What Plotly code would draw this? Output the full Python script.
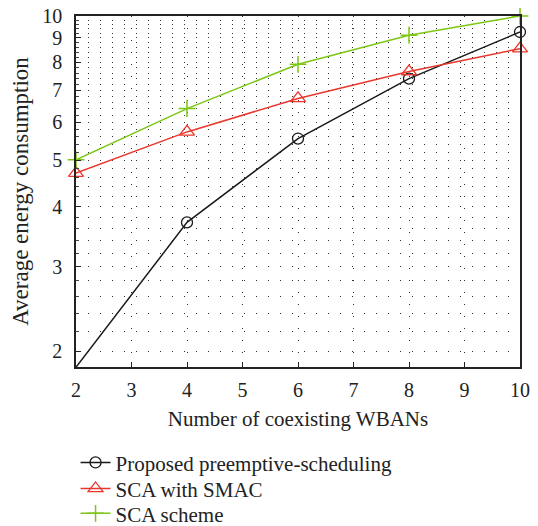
import numpy as np
import plotly.graph_objects as go

x_vals = [2, 4, 6, 8, 10]
proposed = [1.85, 3.71, 5.55, 7.40, 9.26]
sca_smac = [4.70, 5.73, 6.73, 7.66, 8.55]
sca_scheme = [5.01, 6.41, 7.93, 9.12, 10.0]
y_ticks = [2, 3, 4, 5, 6, 7, 8, 9, 10]
x_ticks = [2, 3, 4, 5, 6, 7, 8, 9, 10]

minor_y = [round(2 + 0.2 * i, 1) for i in range(41) if abs((2 + 0.2 * i) - round(2 + 0.2 * i)) > 1e-6]

FONT = "Liberation Serif"
fig = go.Figure()
fig.add_trace(go.Scatter(x=x_vals, y=proposed, name="Proposed preemptive-scheduling",
                         mode="lines+markers", line=dict(color="#1a1a1a", width=1.5),
                         marker=dict(symbol="circle-open", size=11, color="#1a1a1a", line=dict(width=1.3)),
                         cliponaxis=False, legend="legend"))
fig.add_trace(go.Scatter(x=x_vals, y=sca_smac, name="SCA with SMAC",
                         mode="lines+markers", line=dict(color="#e8372c", width=1.5),
                         marker=dict(symbol="triangle-up-open", size=13, color="#e8372c", line=dict(width=1.3)),
                         cliponaxis=False, legend="legend2"))
fig.add_trace(go.Scatter(x=x_vals, y=sca_scheme, name="SCA scheme",
                         mode="lines+markers", line=dict(color="#7cc614", width=1.5),
                         marker=dict(symbol="cross-thin-open", size=12, color="#7cc614", line=dict(width=1.5)),
                         cliponaxis=False, legend="legend3"))

leg_common = dict(x=-0.001, xanchor="left", yanchor="middle",
                  font=dict(family=FONT, size=21, color="#222"),
                  bgcolor="rgba(0,0,0,0)")
fig.update_layout(
    width=530, height=518,
    margin=dict(l=67.5, r=18, t=7.7, b=159, autoexpand=False),
    paper_bgcolor="white", plot_bgcolor="white",
    font=dict(family=FONT, size=20, color="#222"),
    showlegend=True,
    legend=dict(y=-0.273, **leg_common),
    legend2=dict(y=-0.347, **leg_common),
    legend3=dict(y=-0.418, **leg_common),
)
fig.update_xaxes(
    range=[2, 10], tickvals=x_ticks, ticktext=[str(v) for v in x_ticks],
    ticks="inside", ticklen=5, tickcolor="#222", showline=True, linecolor="#222", linewidth=1.5,
    mirror=True, zeroline=False, ticklabelstandoff=4, ticklabeloverflow="allow",
    showgrid=True, gridcolor="#333", gridwidth=1, griddash="1px,11px",
    title=dict(text="Number of coexisting WBANs", font=dict(family=FONT, size=21), standoff=12),
    tickfont=dict(family=FONT, size=20),
)
fig.update_yaxes(
    type="log", range=[np.log10(1.852), 1.0],
    tickvals=y_ticks, ticktext=[str(v) for v in y_ticks],
    ticks="inside", ticklen=5, tickcolor="#222", showline=True, linecolor="#222", linewidth=1.5,
    mirror=True, zeroline=False, ticklabelstandoff=8, ticklabeloverflow="allow",
    showgrid=True, gridcolor="#333", gridwidth=1, griddash="1px,11px",
    minor=dict(tickvals=minor_y, ticks="inside", ticklen=3, tickcolor="#444",
               showgrid=True, gridcolor="#333", gridwidth=1, griddash="1px,11px"),
    title=dict(text="Average energy consumption", font=dict(family=FONT, size=23), standoff=9),
    tickfont=dict(family=FONT, size=20),
)
fig.write_html("out.html")
